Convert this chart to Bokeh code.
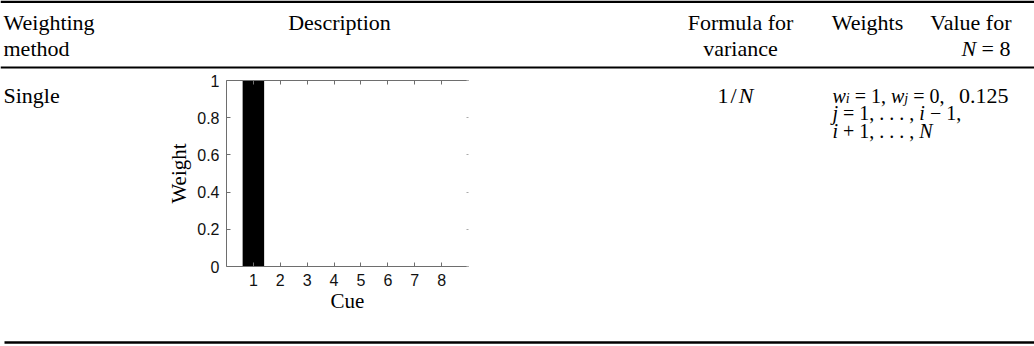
from bokeh.plotting import figure
from bokeh.models import Range1d, LinearAxis, FixedTicker
from bokeh.layouts import column, row
from bokeh.core.properties import value
from bokeh.embed import file_html
from bokeh.resources import INLINE

# ---------------- data ----------------
header_line1 = ["Weighting", "Description", "Formula for", "Weights", "Value for"]
header_line2 = ["method", "variance"]
row_method = "Single"
row_value = "0.125"
cues = [1, 2, 3, 4, 5, 6, 7, 8]
weights = [1, 0, 0, 0, 0, 0, 0, 0]
y_ticks = [0, 0.2, 0.4, 0.6, 0.8, 1]
y_tick_labels = ["0", "0.2", "0.4", "0.6", "0.8", "1"]
x_label = "Cue"
y_label = "Weight"
# math runs: (text, italic, subscript)
header_value_n = [("N", True, False), (" = 8", False, False)]
row_formula = [("1", False, False), ("/", False, False), ("N", True, False)]
row_weights = [
    [("w", True, False), ("i", True, True), (" = 1, ", False, False),
     ("w", True, False), ("j", True, True), (" = 0,", False, False)],
    [("j", True, False), (" = 1, . . . , ", False, False), ("i", True, False),
     (" \u2212 1,", False, False)],
    [("i", True, False), (" + 1, . . . , ", False, False), ("N", True, False)],
]

SERIF = "Liberation Serif"
SANS = "Liberation Sans"
FS = 22
MFS = 20
W = 1034

_R = {" ": .25, ",": .25, ".": .25, "=": .564, "+": .564, "\u2212": .564, "/": .278}
_I = {"w": .667, "i": .278, "j": .278, "N": .667}


def _w(t, italic, size):
    tab = _I if italic else _R
    return sum(tab.get(c, .5) for c in t) * size


def draw_runs(p, x, y, runs, align="left", size=FS, track=0.0):
    def rs(sb):
        return size * 0.7 if sb else size
    total = sum(_w(t, it, rs(sb)) for t, it, sb in runs) + track * (len(runs) - 1)
    if align == "right":
        x -= total
    elif align == "center":
        x -= total / 2
    for t, it, sb in runs:
        s = rs(sb)
        lead = len(t) - len(t.lstrip(" "))
        trail = len(t) - len(t.rstrip(" "))
        x += lead * .25 * s
        tt = t.strip(" ")
        p.text(x=[x], y=[y + (4 if sb else 0)], text=[tt], text_font=value(SERIF),
               text_font_size=f"{s:.1f}px", text_font_style="italic" if it else "normal",
               text_baseline="alphabetic", text_align="left", text_color="black")
        x += _w(tt, it, s) + trail * .25 * s + track


def draw_text(p, x, y, t, align="left"):
    p.text(x=[x], y=[y], text=[t], text_font=value(SERIF), text_font_size=f"{FS}px",
           text_baseline="alphabetic", text_align=align, text_color="black")


def blank(width, height):
    f = figure(width=width, height=height, x_range=Range1d(0, width), y_range=Range1d(height, 0),
               toolbar_location=None, output_backend="svg", min_border=0,
               x_axis_location=None, y_axis_location=None, outline_line_color=None)
    f.grid.visible = False
    f.background_fill_color = "white"
    f.border_fill_color = "white"
    return f


# ---------------- header ----------------
HDR_H = 70
hdr = blank(W, HDR_H)
hdr.segment(x0=[0], y0=[1.25], x1=[W], y1=[1.25], line_width=2.5, line_color="black")
hdr.segment(x0=[0], y0=[67], x1=[W], y1=[67], line_width=2, line_color="black")
draw_text(hdr, 3, 22, header_line1[0])
draw_text(hdr, 3, 48, header_line2[0])
draw_text(hdr, 339, 22, header_line1[1], "center")
draw_text(hdr, 740, 22, header_line1[2], "center")
draw_text(hdr, 740, 48, header_line2[1], "center")
draw_text(hdr, 867, 22, header_line1[3], "center")
draw_text(hdr, 1011, 22, header_line1[4], "right")
draw_runs(hdr, 1010, 48, header_value_n, "right")

# ---------------- body ----------------
BODY_H = 260
LEFT_W = 150
CH_W = 340
RIGHT_W = W - LEFT_W - CH_W
ROW_Y = 21
ROW_STEP = 25

left = blank(LEFT_W, BODY_H)
draw_text(left, 3, ROW_Y, row_method)

ch = figure(width=CH_W, height=BODY_H, x_range=Range1d(0, 9), y_range=Range1d(0, 1),
            toolbar_location=None, output_backend="svg",
            min_border_left=76, min_border_right=22, min_border_top=10, min_border_bottom=64,
            x_axis_location=None, y_axis_location=None, outline_line_color=None)
ch.grid.visible = False
ch.vbar(x=cues, top=weights, bottom=0, width=0.8, fill_color="black", line_color=None)

AX = "#6e6e6e"


def style_axis(ax, labels=True):
    ax.axis_line_color = AX
    ax.axis_line_width = 1
    ax.major_tick_line_color = AX
    ax.major_tick_in = 4
    ax.major_tick_out = 0
    ax.minor_tick_line_color = None
    ax.major_label_text_font = SANS
    ax.major_label_text_font_size = "16px" if labels else "0px"
    ax.major_label_text_color = "#111111"
    ax.axis_label_text_font = SERIF
    ax.axis_label_text_font_size = "21px"
    ax.axis_label_text_font_style = "normal"
    ax.axis_label_text_color = "black"
    if not labels:
        ax.major_label_standoff = 0


xb = LinearAxis(ticker=FixedTicker(ticks=cues), axis_label=x_label)
style_axis(xb)
xb.major_label_standoff = 7
xb.axis_label_standoff = 0
ch.add_layout(xb, "below")

yl = LinearAxis(ticker=FixedTicker(ticks=y_ticks), axis_label=y_label,
                major_label_overrides={t: s for t, s in zip(y_ticks, y_tick_labels)})
style_axis(yl)
yl.major_label_standoff = 7
yl.axis_label_standoff = 3
ch.add_layout(yl, "left")

xt = LinearAxis(ticker=FixedTicker(ticks=cues))
style_axis(xt, labels=False)
ch.add_layout(xt, "above")

yr = LinearAxis(ticker=FixedTicker(ticks=y_ticks))
style_axis(yr, labels=False)
yr.axis_line_color = None
yr.major_tick_line_color = "#aaaaaa"
yr.major_tick_in = 2
ch.add_layout(yr, "right")

right = blank(RIGHT_W, BODY_H)
X0 = LEFT_W + CH_W
draw_runs(right, 735 - X0, ROW_Y, row_formula, "center", size=FS, track=2)
for k, runs in enumerate(row_weights):
    draw_runs(right, 832 - X0, ROW_Y + ROW_STEP * k, runs, "left", size=MFS)
draw_text(right, 1008 - X0, ROW_Y, row_value, "right")

# ---------------- footer ----------------
FT_H = 346 - HDR_H - BODY_H
ftr = blank(W, FT_H)
ftr.segment(x0=[4], y0=[342 - HDR_H - BODY_H], x1=[W], y1=[342 - HDR_H - BODY_H],
            line_width=2.5, line_color="black")

layout = column(hdr, row(left, ch, right), ftr)
open("out.html", "w").write(file_html(layout, INLINE))
